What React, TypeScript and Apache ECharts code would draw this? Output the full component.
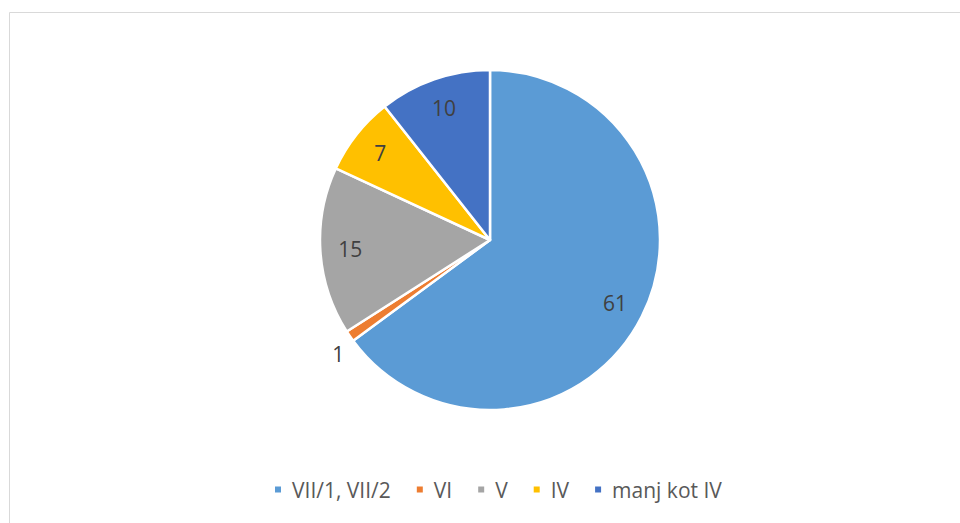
import React, { useEffect, useRef } from "react";
import * as echarts from "echarts";

const categories = ["VII/1, VII/2", "VI", "V", "IV", "manj kot IV"];
const values = [61, 1, 15, 7, 10];
const colors = ["#5B9BD5", "#ED7D31", "#A5A5A5", "#FFC000", "#4472C4"];
const outsideLabelIndex = [1];

export default function App() {
  const ref = useRef<HTMLDivElement>(null);
  useEffect(() => {
    if (!ref.current) return;
    const chart = echarts.init(ref.current, undefined, { renderer: "svg" });
    const font = "Open Sans, Liberation Sans, Arial, sans-serif";
    const mainData = categories.map((name, i) => ({
      name,
      value: values[i],
      itemStyle: { color: colors[i] },
      label: outsideLabelIndex.includes(i)
        ? { show: true, position: "outside", distanceToLabelLine: -20 }
        : { show: false },
      labelLine: { show: false, length: 31, length2: 0 },
    }));
    const overlayData = categories.map((name, i) => ({
      name,
      value: values[i],
      label: { show: !outsideLabelIndex.includes(i) },
    }));
    chart.setOption({
      animation: false,
      graphic: [
        {
          type: "rect",
          shape: { x: 9.5, y: 12.5, width: 960, height: 520 },
          style: { fill: "none", stroke: "#d9d9d9", lineWidth: 1 },
          silent: true,
        },
      ],
      legend: {
        data: categories,
        bottom: 18,
        left: 268,
        itemWidth: 8,
        itemHeight: 8,
        itemGap: 24,
        icon: "rect",
        textStyle: { color: "#595959", fontSize: 21, fontFamily: font, padding: [0, 0, 0, 5] },
      },
      series: [
        {
          type: "pie",
          center: [490, 240],
          radius: [0, 170],
          startAngle: 90,
          clockwise: true,
          avoidLabelOverlap: false,
          itemStyle: { borderColor: "#ffffff", borderWidth: 2.5 },
          label: { color: "#404040", fontSize: 21, fontFamily: font, formatter: "{c}" },
          data: mainData,
          silent: true,
        },
        {
          type: "pie",
          center: [490, 240],
          radius: [104, 170],
          startAngle: 90,
          clockwise: true,
          avoidLabelOverlap: false,
          itemStyle: { color: "transparent", borderWidth: 0 },
          label: {
            show: true,
            position: "inside",
            color: "#404040",
            fontSize: 21,
            fontFamily: font,
            formatter: "{c}",
          },
          labelLine: { show: false },
          emphasis: { disabled: true },
          data: overlayData,
          silent: true,
        },
      ],
    });
    return () => chart.dispose();
  }, []);
  return (
    <div
      ref={ref}
      style={{ position: "fixed", left: 0, top: 0, width: 960, height: 523, background: "#fff" }}
    />
  );
}
